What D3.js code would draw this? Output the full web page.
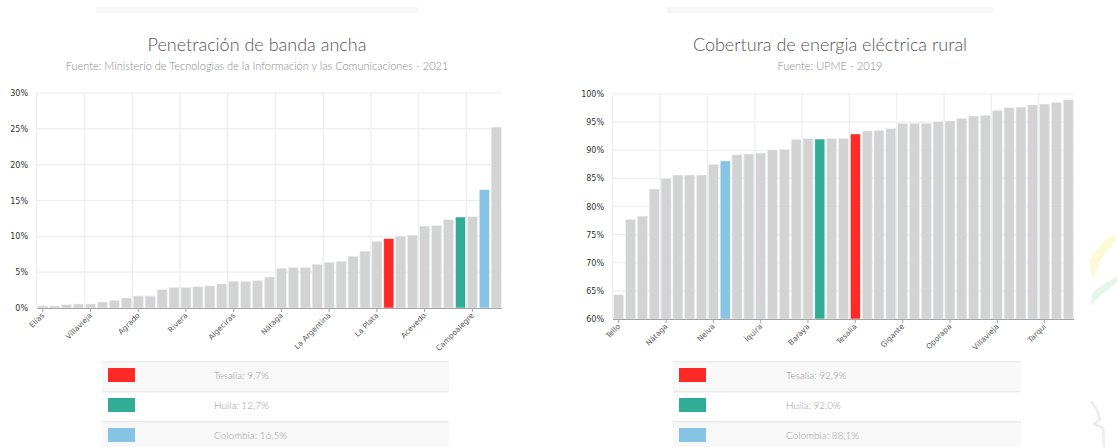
<!DOCTYPE html>
<html>
<head>
<meta charset="utf-8">
<script src="https://cdn.jsdelivr.net/npm/d3@7"></script>
<style>
  body { margin: 0; background: #fff; }
  svg { display: block; }
  .title { font-family: Lato, 'Open Sans', sans-serif; font-weight: 300; fill: #555; }
  .subtitle { font-family: Lato, 'Open Sans', sans-serif; font-weight: 300; fill: #8a8a8a; }
  .ytick { font-family: 'DejaVu Sans', Verdana, sans-serif; font-size: 8px; fill: #333; }
  .xtick { font-family: 'DejaVu Sans', Verdana, sans-serif; font-size: 7.5px; fill: #555; }
  .legend-text { font-family: Lato, 'Open Sans', sans-serif; font-weight: 300; font-size: 10px; fill: #9a9a9a; }
</style>
</head>
<body>
<div class="holder"></div>
<script>
// --- data -------------------------------------------------------------
let bandaNames = ['Elías','Aipe','Altamira','Baraya','Villavieja','Colombia (mun.)','Guadalupe','Hobo',
  'Agrado','Íquira','Isnos','Oporapa','Rivera','Paicol','Palermo','Palestina','Algeciras','Pital',
  'Saladoblanco','San Agustín','Nátaga','Santa María','Suaza','Tarqui','La Argentina','Tello','Teruel',
  'Timaná','La Plata','Tesalia','Yaguará','Gigante','Acevedo','Garzón','Pitalito','Huila','Campoalegre',
  'Colombia','Neiva']
let bandaValues = [0.3,0.3,0.47,0.56,0.56,0.84,1.07,1.4,1.68,1.68,2.57,2.89,2.89,2.99,3.08,3.36,3.73,3.73,
  3.83,4.34,5.55,5.65,5.65,6.11,6.39,6.53,7.23,7.93,9.29,9.7,10.03,10.17,11.43,11.53,12.32,12.7,12.75,
  16.5,25.24]
let bandaTicks = ['0%','5%','10%','15%','20%','25%','30%']

let energiaNames = ['Tello','Acevedo','Agrado','Aipe','Nátaga','Algeciras','Altamira','Campoalegre',
  'Neiva','Colombia','Colombia (mun.)','Elías','Íquira','Garzón','Guadalupe','Hobo','Baraya','Huila',
  'Isnos','La Argentina','Tesalia','La Plata','Paicol','Palermo','Gigante','Palestina','Pital','Pitalito',
  'Oporapa','Rivera','Saladoblanco','San Agustín','Villavieja','Santa María','Suaza','Teruel','Tarqui',
  'Timaná','Yaguará']
let energiaValues = [64.3,77.7,78.3,83.1,85.0,85.6,85.6,85.6,87.5,88.1,89.2,89.35,89.5,90.06,90.18,91.95,
  92.07,92.0,92.07,92.1,92.9,93.43,93.55,93.85,94.79,94.79,94.79,95.09,95.21,95.68,96.09,96.21,97.1,97.57,
  97.69,98.05,98.22,98.52,98.99]
let energiaTicks = ['60%','65%','70%','75%','80%','85%','90%','95%','100%']

let highlightNames = ['Tesalia','Huila','Colombia']
let highlightColors = ['#ff2a26','#31ad96','#86c4e5']
let bandaLegend = ['Tesalia:  9,7%','Huila:  12,7%','Colombia:  16,5%']
let energiaLegend = ['Tesalia:  92,9%','Huila:  92,0%','Colombia:  88,1%']

// --- page -------------------------------------------------------------
let svg = d3.select('.holder')
  .append('svg')
    .attr('width', 1117)
    .attr('height', 447)

let highlight = d3.scaleOrdinal().domain(highlightNames).range(highlightColors).unknown('#d3d3d3')

function drawChart(opt) {
  let g = svg.append('g')

  // top strip
  g.append('rect')
    .attr('x', opt.strip[0]).attr('y', 7)
    .attr('width', opt.strip[1] - opt.strip[0]).attr('height', 6)
    .attr('fill', '#f7f7f7')

  g.append('text').attr('class', 'title')
    .attr('x', opt.center).attr('y', 51)
    .attr('text-anchor', 'middle').style('font-size', '18px')
    .text(opt.title)
  g.append('text').attr('class', 'subtitle')
    .attr('x', opt.center).attr('y', 70)
    .attr('text-anchor', 'middle').style('font-size', '11px')
    .text(opt.subtitle)

  let x = d3.scaleBand()
    .domain(opt.names)
    .range([opt.left, opt.right])
    .paddingInner(0.15)
    .paddingOuter(0.06)

  let y = d3.scaleLinear()
    .domain(opt.domain)
    .range([opt.bottom, opt.top])

  let tickVals = opt.ticks.map(t => +t.replace('%', ''))
  let shown = opt.names.filter((d, i) => i % 4 === 0)
  let half = x.step() * x.paddingInner() / 2

  // grid
  g.append('g').selectAll('line.h')
    .data(tickVals)
    .enter().append('line')
      .attr('x1', opt.left).attr('x2', opt.right)
      .attr('y1', d => y(d)).attr('y2', d => y(d))
      .attr('stroke', '#eeeeee').attr('stroke-width', 1.2)

  g.append('g').selectAll('line.v')
    .data(shown)
    .enter().append('line')
      .attr('x1', d => x(d) - half).attr('x2', d => x(d) - half)
      .attr('y1', opt.top).attr('y2', opt.bottom)
      .attr('stroke', '#eeeeee').attr('stroke-width', 1.2)

  // bars
  g.append('g').selectAll('rect')
    .data(opt.names)
    .enter().append('rect')
      .attr('x', d => x(d))
      .attr('width', x.bandwidth())
      .attr('y', (d, i) => y(opt.values[i]))
      .attr('height', (d, i) => opt.bottom - y(opt.values[i]))
      .attr('fill', d => highlight(d))
      .attr('stroke', '#eef3f6').attr('stroke-width', 0.6)

  // axes
  g.append('line')
    .attr('x1', opt.left).attr('x2', opt.right)
    .attr('y1', opt.bottom + 0.5).attr('y2', opt.bottom + 0.5)
    .attr('stroke', '#a3a3a3').attr('stroke-width', 1.2)

  g.append('g').selectAll('line')
    .data(shown)
    .enter().append('line')
      .attr('x1', d => x(d) + x.bandwidth() / 2).attr('x2', d => x(d) + x.bandwidth() / 2)
      .attr('y1', opt.bottom).attr('y2', opt.bottom + 4)
      .attr('stroke', '#a3a3a3')

  g.append('g').selectAll('text')
    .data(shown)
    .enter().append('text').attr('class', 'xtick')
      .attr('text-anchor', 'end')
      .attr('transform', d => 'translate(' + (x(d) + x.bandwidth() / 2 + 2) + ',' + (opt.bottom + 8) + ') rotate(-45)')
      .text(d => d)

  g.append('g').selectAll('text')
    .data(opt.ticks)
    .enter().append('text').attr('class', 'ytick')
      .attr('x', opt.left - 9)
      .attr('y', (d, i) => y(tickVals[i]) + 3)
      .attr('text-anchor', 'end')
      .text(d => d)

  // legend table
  let rowTops = [361, 391, 421]
  let rows = g.append('g').selectAll('g')
    .data(opt.legend)
    .enter().append('g')
  rows.append('rect')
    .attr('x', opt.table[0]).attr('width', opt.table[1] - opt.table[0])
    .attr('y', (d, i) => rowTops[i]).attr('height', 30)
    .attr('fill', (d, i) => i % 2 === 0 ? '#f8f8f8' : '#ffffff')
  rows.append('rect')
    .attr('x', opt.table[0]).attr('width', opt.table[1] - opt.table[0])
    .attr('y', (d, i) => rowTops[i]).attr('height', 1.5)
    .attr('fill', '#ececec')
  rows.append('rect')
    .attr('x', opt.table[0] + 6).attr('width', 27)
    .attr('y', (d, i) => rowTops[i] + 7).attr('height', 14)
    .attr('fill', (d, i) => highlightColors[i])
  rows.append('text').attr('class', 'legend-text')
    .attr('x', opt.textX)
    .attr('y', (d, i) => rowTops[i] + 18)
    .text(d => d)
}

drawChart({
  names: bandaNames, values: bandaValues, ticks: bandaTicks, domain: [0, 30],
  left: 37, right: 502, top: 93, bottom: 308,
  strip: [96, 419], center: 257,
  title: 'Penetración de banda ancha',
  subtitle: 'Fuente: Ministerio de Tecnologias de la Información y las Comunicaciones - 2021',
  legend: bandaLegend, table: [102, 449], textX: 214
})

drawChart({
  names: energiaNames, values: energiaValues, ticks: energiaTicks, domain: [60, 100],
  left: 613, right: 1074, top: 94, bottom: 319,
  strip: [667, 993], center: 830,
  title: 'Cobertura de energia eléctrica rural',
  subtitle: 'Fuente: UPME - 2019',
  legend: energiaLegend, table: [673, 1021], textX: 786
})

// faint fragments at the right edge
let bits = svg.append('g')
bits.append('path')
  .attr('d', 'M1090,258 L1104,241 L1116,233 L1116,240 L1101,259 L1093,279 L1090,272 Z')
  .attr('fill', '#fbf9cc').attr('opacity', 0.8)
bits.append('path')
  .attr('d', 'M1090,306 L1093,292 L1104,284 L1117,276 L1117,282 L1100,296 Z')
  .attr('fill', '#ddf4e2').attr('opacity', 0.8)
bits.append('path')
  .attr('d', 'M1091,401 L1097,410 L1100,419 L1094,424 L1103,428 L1104,447')
  .attr('fill', 'none').attr('stroke', '#ececec').attr('stroke-width', 2.5)
</script>
</body>
</html>
